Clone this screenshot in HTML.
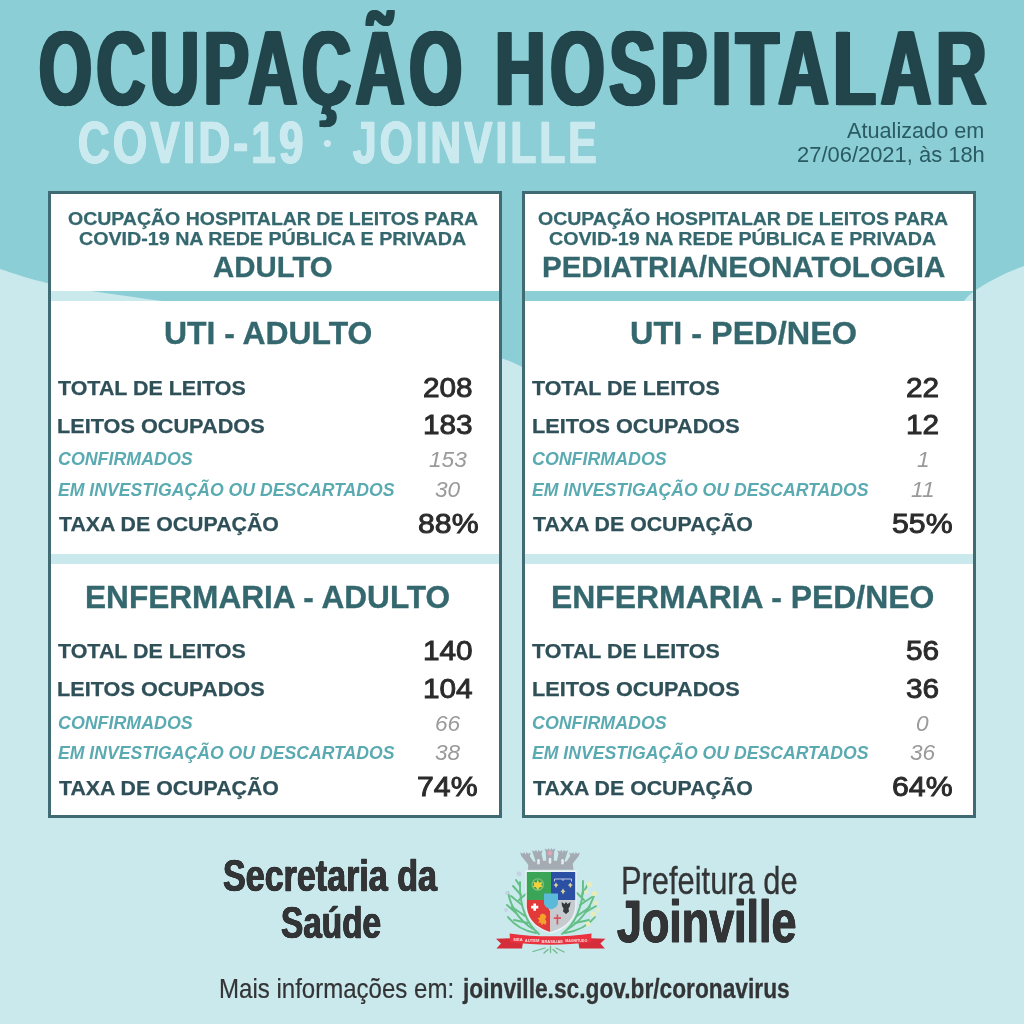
<!DOCTYPE html>
<html lang="pt-BR"><head><meta charset="utf-8"><title>Ocupação Hospitalar - COVID-19 - Joinville</title>
<style>
html,body{margin:0;padding:0}
body{width:1024px;height:1024px;position:relative;overflow:hidden;background:#cae9ec;font-family:"Liberation Sans",sans-serif;font-weight:bold}
#bg{position:absolute;left:0;top:0}
.box{position:absolute;top:191px;width:448px;height:621px;border:3px solid #416b73;box-sizing:content-box}
.box i{position:absolute;left:0;right:0;background:#fff;display:block}
.t{position:absolute;white-space:nowrap;line-height:1;transform-origin:0 0;display:block}
#crest{position:absolute;left:490px;top:840px}
</style></head><body>
<svg id="bg" width="1024" height="1024" viewBox="0 0 1024 1024"><path fill="#8bced6" d="M0,0H1024V266C1006,272 987,282 973,292C966,297 962,304 955,312C900,380 800,470 650,430C600,415 560,390 522,367C470,338 300,320 162,301C120,295 85,291 48,283.2C30,279 15,274 0,269Z"/></svg>
<header>
<span class="t" style="left:39.02px;top:16.65px;font-size:104.78px;color:#22454b;transform:scaleX(0.6485);-webkit-text-stroke:0.3px #22454b;letter-spacing:7px;text-shadow:3.0px 0 0 #22454b,-3.0px 0 0 #22454b,1.5px 0 0 #22454b,-1.5px 0 0 #22454b;">OCUPAÇÃO</span>
<span class="t" style="left:495.03px;top:16.65px;font-size:104.78px;color:#22454b;transform:scaleX(0.6675);-webkit-text-stroke:0.3px #22454b;letter-spacing:7px;text-shadow:3.0px 0 0 #22454b,-3.0px 0 0 #22454b,1.5px 0 0 #22454b,-1.5px 0 0 #22454b;">HOSPITALAR</span>
<span class="t" style="left:77.86px;top:112.63px;font-size:59.86px;color:#cbeaef;transform:scaleX(0.7328);-webkit-text-stroke:0.6px #cbeaef;letter-spacing:4.5px;text-shadow:1.1px 0 0 #cbeaef,-1.1px 0 0 #cbeaef,0.55px 0 0 #cbeaef,-0.55px 0 0 #cbeaef;">COVID-19</span>
<span class="t" style="left:323.17px;top:131.68px;font-size:24.3px;color:#cbeaef;transform:scaleX(1.0423);">•</span>
<span class="t" style="left:352.59px;top:112.63px;font-size:59.86px;color:#cbeaef;transform:scaleX(0.7053);-webkit-text-stroke:0.6px #cbeaef;letter-spacing:4.5px;text-shadow:1.1px 0 0 #cbeaef,-1.1px 0 0 #cbeaef,0.55px 0 0 #cbeaef,-0.55px 0 0 #cbeaef;">JOINVILLE</span>
<span class="t" style="left:847.00px;top:119.52px;font-size:21.59px;color:#2a5a62;transform:scaleX(1.0043);font-weight:normal;">Atualizado em</span>
<span class="t" style="left:796.57px;top:144.72px;font-size:21.3px;color:#2a5a62;transform:scaleX(1.0297);font-weight:normal;">27/06/2021, às 18h</span>
</header>
<main>
<section class="card">
<div class="box" style="left:48px"><i style="top:0;height:97.2px"></i><i style="top:107.2px;height:252.8px"></i><i style="top:370.3px;bottom:0"></i></div>
<span class="t" style="left:68.15px;top:209.66px;font-size:18.77px;color:#34686e;transform:scaleX(1.0388);-webkit-text-stroke:0.25px #34686e;">OCUPAÇÃO HOSPITALAR DE LEITOS PARA</span>
<span class="t" style="left:78.65px;top:229.66px;font-size:18.77px;color:#34686e;transform:scaleX(1.0480);-webkit-text-stroke:0.25px #34686e;">COVID-19 NA REDE PÚBLICA E PRIVADA</span>
<span class="t" style="left:213.44px;top:252.84px;font-size:29.13px;color:#34686e;transform:scaleX(1.0089);-webkit-text-stroke:0.3px #34686e;">ADULTO</span>
<span class="t" style="left:164.18px;top:316.90px;font-size:32.25px;color:#34686e;transform:scaleX(0.9884);-webkit-text-stroke:0.35px #34686e;">UTI - ADULTO</span>
<span class="t" style="left:57.92px;top:377.05px;font-size:21.09px;color:#2f5058;transform:scaleX(1.0168);-webkit-text-stroke:0.25px #2f5058;">TOTAL DE LEITOS</span>
<span class="t" style="left:57.44px;top:414.85px;font-size:21.09px;color:#2f5058;transform:scaleX(1.0287);-webkit-text-stroke:0.25px #2f5058;">LEITOS OCUPADOS</span>
<span class="t" style="left:57.94px;top:450.59px;font-size:17.61px;color:#5aaab1;transform:scaleX(1.0125);font-style:italic;">CONFIRMADOS</span>
<span class="t" style="left:57.95px;top:481.73px;font-size:17.68px;color:#5aaab1;transform:scaleX(0.9982);font-style:italic;">EM INVESTIGAÇÃO OU DESCARTADOS</span>
<span class="t" style="left:58.67px;top:513.89px;font-size:20.8px;color:#2f5058;transform:scaleX(1.0252);-webkit-text-stroke:0.25px #2f5058;">TAXA DE OCUPAÇÃO</span>
<span class="t" style="left:423.09px;top:374.66px;font-size:26.8px;color:#2b2b2b;transform:scaleX(1.1100);font-weight:normal;-webkit-text-stroke:0.9px #2b2b2b;">208</span>
<span class="t" style="left:422.86px;top:411.51px;font-size:26.8px;color:#2b2b2b;transform:scaleX(1.1100);font-weight:normal;-webkit-text-stroke:0.9px #2b2b2b;">183</span>
<span class="t" style="left:428.86px;top:449.35px;font-size:21.2px;color:#9a9a9a;transform:scaleX(1.0700);font-weight:normal;font-style:italic;">153</span>
<span class="t" style="left:435.22px;top:478.65px;font-size:21.2px;color:#9a9a9a;transform:scaleX(1.0700);font-weight:normal;font-style:italic;">30</span>
<span class="t" style="left:417.72px;top:510.54px;font-size:27.0px;color:#2b2b2b;transform:scaleX(1.1200);font-weight:normal;-webkit-text-stroke:0.9px #2b2b2b;">88%</span>
<span class="t" style="left:85.20px;top:580.65px;font-size:32.25px;color:#34686e;transform:scaleX(0.9799);-webkit-text-stroke:0.35px #34686e;">ENFERMARIA - ADULTO</span>
<span class="t" style="left:57.92px;top:640.30px;font-size:21.09px;color:#2f5058;transform:scaleX(1.0168);-webkit-text-stroke:0.25px #2f5058;">TOTAL DE LEITOS</span>
<span class="t" style="left:57.44px;top:678.35px;font-size:21.09px;color:#2f5058;transform:scaleX(1.0287);-webkit-text-stroke:0.25px #2f5058;">LEITOS OCUPADOS</span>
<span class="t" style="left:57.94px;top:714.59px;font-size:17.61px;color:#5aaab1;transform:scaleX(1.0125);font-style:italic;">CONFIRMADOS</span>
<span class="t" style="left:57.95px;top:744.73px;font-size:17.68px;color:#5aaab1;transform:scaleX(0.9982);font-style:italic;">EM INVESTIGAÇÃO OU DESCARTADOS</span>
<span class="t" style="left:58.67px;top:777.64px;font-size:20.8px;color:#2f5058;transform:scaleX(1.0252);-webkit-text-stroke:0.25px #2f5058;">TAXA DE OCUPAÇÃO</span>
<span class="t" style="left:422.62px;top:637.66px;font-size:26.8px;color:#2b2b2b;transform:scaleX(1.1100);font-weight:normal;-webkit-text-stroke:0.9px #2b2b2b;">140</span>
<span class="t" style="left:422.62px;top:675.51px;font-size:26.8px;color:#2b2b2b;transform:scaleX(1.1100);font-weight:normal;-webkit-text-stroke:0.9px #2b2b2b;">104</span>
<span class="t" style="left:434.79px;top:712.85px;font-size:21.2px;color:#9a9a9a;transform:scaleX(1.0700);font-weight:normal;font-style:italic;">66</span>
<span class="t" style="left:435.22px;top:742.15px;font-size:21.2px;color:#9a9a9a;transform:scaleX(1.0700);font-weight:normal;font-style:italic;">38</span>
<span class="t" style="left:417.48px;top:773.54px;font-size:27.0px;color:#2b2b2b;transform:scaleX(1.1200);font-weight:normal;-webkit-text-stroke:0.9px #2b2b2b;">74%</span>
</section>
<section class="card">
<div class="box" style="left:522px"><i style="top:0;height:97.2px"></i><i style="top:107.2px;height:252.8px"></i><i style="top:370.3px;bottom:0"></i></div>
<span class="t" style="left:538.15px;top:209.66px;font-size:18.77px;color:#34686e;transform:scaleX(1.0388);-webkit-text-stroke:0.25px #34686e;">OCUPAÇÃO HOSPITALAR DE LEITOS PARA</span>
<span class="t" style="left:548.65px;top:229.66px;font-size:18.77px;color:#34686e;transform:scaleX(1.0480);-webkit-text-stroke:0.25px #34686e;">COVID-19 NA REDE PÚBLICA E PRIVADA</span>
<span class="t" style="left:542.06px;top:252.84px;font-size:29.13px;color:#34686e;transform:scaleX(1.0132);-webkit-text-stroke:0.3px #34686e;">PEDIATRIA/NEONATOLOGIA</span>
<span class="t" style="left:629.91px;top:316.90px;font-size:32.25px;color:#34686e;transform:scaleX(1.0058);-webkit-text-stroke:0.35px #34686e;">UTI - PED/NEO</span>
<span class="t" style="left:532.42px;top:377.05px;font-size:21.09px;color:#2f5058;transform:scaleX(1.0168);-webkit-text-stroke:0.25px #2f5058;">TOTAL DE LEITOS</span>
<span class="t" style="left:531.94px;top:414.85px;font-size:21.09px;color:#2f5058;transform:scaleX(1.0287);-webkit-text-stroke:0.25px #2f5058;">LEITOS OCUPADOS</span>
<span class="t" style="left:532.44px;top:450.59px;font-size:17.61px;color:#5aaab1;transform:scaleX(1.0125);font-style:italic;">CONFIRMADOS</span>
<span class="t" style="left:532.45px;top:481.73px;font-size:17.68px;color:#5aaab1;transform:scaleX(0.9982);font-style:italic;">EM INVESTIGAÇÃO OU DESCARTADOS</span>
<span class="t" style="left:533.17px;top:513.89px;font-size:20.8px;color:#2f5058;transform:scaleX(1.0252);-webkit-text-stroke:0.25px #2f5058;">TAXA DE OCUPAÇÃO</span>
<span class="t" style="left:905.86px;top:374.66px;font-size:26.8px;color:#2b2b2b;transform:scaleX(1.1100);font-weight:normal;-webkit-text-stroke:0.9px #2b2b2b;">22</span>
<span class="t" style="left:905.63px;top:411.51px;font-size:26.8px;color:#2b2b2b;transform:scaleX(1.1100);font-weight:normal;-webkit-text-stroke:0.9px #2b2b2b;">12</span>
<span class="t" style="left:916.88px;top:449.35px;font-size:21.2px;color:#9a9a9a;transform:scaleX(1.0700);font-weight:normal;font-style:italic;">1</span>
<span class="t" style="left:911.42px;top:478.65px;font-size:21.2px;color:#9a9a9a;transform:scaleX(1.0700);font-weight:normal;font-style:italic;">11</span>
<span class="t" style="left:892.22px;top:510.54px;font-size:27.0px;color:#2b2b2b;transform:scaleX(1.1200);font-weight:normal;-webkit-text-stroke:0.9px #2b2b2b;">55%</span>
<span class="t" style="left:550.68px;top:580.65px;font-size:32.25px;color:#34686e;transform:scaleX(0.9890);-webkit-text-stroke:0.35px #34686e;">ENFERMARIA - PED/NEO</span>
<span class="t" style="left:532.42px;top:640.30px;font-size:21.09px;color:#2f5058;transform:scaleX(1.0168);-webkit-text-stroke:0.25px #2f5058;">TOTAL DE LEITOS</span>
<span class="t" style="left:531.94px;top:678.35px;font-size:21.09px;color:#2f5058;transform:scaleX(1.0287);-webkit-text-stroke:0.25px #2f5058;">LEITOS OCUPADOS</span>
<span class="t" style="left:532.44px;top:714.59px;font-size:17.61px;color:#5aaab1;transform:scaleX(1.0125);font-style:italic;">CONFIRMADOS</span>
<span class="t" style="left:532.45px;top:744.73px;font-size:17.68px;color:#5aaab1;transform:scaleX(0.9982);font-style:italic;">EM INVESTIGAÇÃO OU DESCARTADOS</span>
<span class="t" style="left:533.17px;top:777.64px;font-size:20.8px;color:#2f5058;transform:scaleX(1.0252);-webkit-text-stroke:0.25px #2f5058;">TAXA DE OCUPAÇÃO</span>
<span class="t" style="left:906.09px;top:637.66px;font-size:26.8px;color:#2b2b2b;transform:scaleX(1.1100);font-weight:normal;-webkit-text-stroke:0.9px #2b2b2b;">56</span>
<span class="t" style="left:906.09px;top:675.51px;font-size:26.8px;color:#2b2b2b;transform:scaleX(1.1100);font-weight:normal;-webkit-text-stroke:0.9px #2b2b2b;">36</span>
<span class="t" style="left:915.76px;top:712.85px;font-size:21.2px;color:#9a9a9a;transform:scaleX(1.0700);font-weight:normal;font-style:italic;">0</span>
<span class="t" style="left:909.67px;top:742.15px;font-size:21.2px;color:#9a9a9a;transform:scaleX(1.0700);font-weight:normal;font-style:italic;">36</span>
<span class="t" style="left:891.98px;top:773.54px;font-size:27.0px;color:#2b2b2b;transform:scaleX(1.1200);font-weight:normal;-webkit-text-stroke:0.9px #2b2b2b;">64%</span>
</section>
</main>
<footer>
<span class="t" style="left:222.61px;top:852.91px;font-size:45.29px;color:#333436;transform:scaleX(0.7523);-webkit-text-stroke:0.5px #333436;text-shadow:0.6px 0 0 #333436,-0.6px 0 0 #333436,0.3px 0 0 #333436,-0.3px 0 0 #333436;">Secretaria da</span>
<span class="t" style="left:280.61px;top:900.52px;font-size:44.57px;color:#333436;transform:scaleX(0.7482);-webkit-text-stroke:0.5px #333436;text-shadow:0.6px 0 0 #333436,-0.6px 0 0 #333436,0.3px 0 0 #333436,-0.3px 0 0 #333436;">Saúde</span>
<svg id="crest" width="130" height="124" viewBox="488 838 130 124" style="position:absolute;left:488px;top:838px">
<!-- plants -->
<g fill="none" stroke="#63bf85" stroke-width="1.900" stroke-linecap="round">
<path d="M539,934C528,925 519,908 520,882"/><path d="M533,929C520,921 511,908 508,892"/><path d="M536,933C525,931 515,926 508,917"/>
<path d="M525,916L512,907M522,905L511,896M521,895L513,886M520,886L516,880M528,923L514,920M519,900L527,893M516,913L507,905"/>
<path d="M562,934C574,925 584,908 583,881"/><path d="M568,929C581,921 590,908 595,893"/><path d="M565,933C577,931 588,926 595,917"/>
<path d="M577,916L590,907M580,905L592,897M582,895L588,884M575,923L589,920M584,900L577,893M586,912L596,906"/>
</g>
<g fill="#e9edb5"><circle cx="589.500" cy="884.500" r="2.800"/><circle cx="594.500" cy="893.500" r="2.600"/><circle cx="596" cy="903" r="2.200"/><circle cx="593" cy="914" r="2.600"/><circle cx="588" cy="924" r="2.400"/><circle cx="586" cy="892" r="2"/><circle cx="598" cy="910" r="1.800"/></g>
<g fill="#c5d2e4"><circle cx="519" cy="874" r="2.400"/><circle cx="507" cy="893" r="2"/><circle cx="506" cy="910" r="2"/></g>
<!-- crown -->
<path fill="#a4abb2" d="M528.9,865.5L521.3,856.0L520.1,852.5L522.9,853.7L524.3,851.9L525.5,854.7L526.7,851.9L528.1,853.7L530.9,852.5L529.7,856.0L536.1,865.5ZM536.9,865.5L533.1,853.8L531.9,850.3L534.7,851.5L536.1,849.7L537.3,852.5L538.5,849.7L539.9,851.5L542.7,850.3L541.5,853.8L544.1,865.5ZM546.4,865.5L545.8,852.0L544.6,848.5L547.4,849.7L548.8,847.9L550.0,850.7L551.2,847.9L552.6,849.7L555.4,848.5L554.2,852.0L553.6,865.5ZM555.9,865.5L558.5,853.8L557.3,850.3L560.1,851.5L561.5,849.7L562.7,852.5L563.9,849.7L565.3,851.5L568.1,850.3L566.9,853.8L563.1,865.5ZM563.9,865.5L570.3,856.0L569.1,852.5L571.9,853.7L573.3,851.9L574.5,854.7L575.7,851.9L577.1,853.7L579.9,852.5L578.7,856.0L571.1,865.5Z"/>
<path fill="#a4abb2" d="M528.500,862.500C543,860 558,860 572.500,862.500L573.500,869.800H528Z"/>
<g fill="#e4ebef"><rect x="537.2" y="859" width="2.600" height="5.4" rx="1.2"/><rect x="548.7" y="857.8" width="2.600" height="6" rx="1.2"/><rect x="561.2" y="859" width="2.600" height="5.4" rx="1.2"/></g>
<circle cx="550" cy="853.300" r="2.300" fill="#e7a3b4"/>
<!-- shield -->
<path fill="#eef3f5" d="M525.500,870.500H576.500V905C576.500,920 566,929 551,933.500C536,929 525.500,920 525.500,905Z"/>
<path fill="#3aa557" d="M526.800,872H551V900H526.800Z"/>
<path fill="#2a4fa3" d="M551,872H575.200V900H551Z"/>
<path fill="#e23a3b" d="M526.800,900H544.500L550.300,911.500V932C537,928 526.800,919 526.800,905Z"/>
<path fill="#c6cbcf" d="M544,900H575.200V905C575.200,919 565,928 550.300,932V911.500Z"/>
<path fill="#5bb9da" d="M544,893.500H558V903C558,906.500 554.500,908.500 551,909.200C547.500,908.500 544,906.500 544,903Z"/>
<!-- charges -->
<circle cx="537.800" cy="884.500" r="6.300" fill="#7cc07a"/><circle cx="537.800" cy="884.500" r="5" fill="#3f9a52"/>
<path fill="#f0d23c" d="M537.800,879.500l1.300,3.200 3.200-1 -1,3.200 1.700,2.300 -3.200-.3 -2,3.300 -2-3.300 -3.200,.3 1.700-2.300 -1-3.200 3.200,1z"/>
<path fill="none" stroke="#cfd8ea" stroke-width="0.900" d="M554.500,881.500V879H571.500V881.500M563,879V881"/>
<g fill="#d9d4a0"><path d="M556,882.500l1.500,2.500 -1.500,3 -1.500-3z"/><path d="M570.300,882.500l1.500,2.500 -1.500,3 -1.500-3z"/><path d="M563,888.500l1.600,2.800 -1.600,3.200 -1.600-3.200z"/><rect x="553.800" y="884.600" width="4.400" height="0.900"/><rect x="568.100" y="884.600" width="4.400" height="0.900"/><rect x="560.800" y="890.900" width="4.400" height="0.900"/></g>
<path fill="#fff" d="M533.400,903.500h2.600v2.300h2.300v2.600h-2.300v2.300h-2.600v-2.300h-2.300v-2.600h2.300z"/>
<path fill="#f4a02c" d="M540,915l2.500-1.500 2.500,1 1.500,2.500 -1.500,2 1.500,2.500 -1,3.500 -2-1.500 -1.500,2 -1.500-3 -2.500,.5 1.500-2.500 -2-2.500 2.500-.5z"/>
<path fill="#333a3c" d="M566,902l1.500,2 3-2 -.5,4 -1.500,2.500 .5,3 -3,2.500 -3-2.500 .5-3 -1.500-2.500 -.5-4 3,2z"/>
<path fill="#e0505a" d="M556.600,914.500h1.600v2.800h2.800v1.600h-2.800v5.500h-1.600v-5.500h-2.800v-1.600h2.800z"/>
<!-- ribbon -->
<path fill="#d52d39" d="M496,938.800L511,938.300L523,942.500L522,948.500L496.500,948.500L501,943.600Z"/>
<path fill="#d52d39" d="M605.400,938.800L590.400,938.300L578.400,942.500L579.400,948.500L604.900,948.500L600.400,943.600Z"/>
<path fill="#e9333f" d="M509.600,933.500C523,935.500 537,936.300 550.500,936.300C564,936.300 578,935.500 591.600,933.500L591,942C577,944 564,944.700 550.500,944.700C537,944.700 524,944 510.200,942Z"/>
<text font-family="Liberation Sans, sans-serif" font-weight="bold" font-size="4.400" fill="#f9dfe1"><tspan x="513.600" y="941.400" textLength="9" lengthAdjust="spacingAndGlyphs">MEA</tspan><tspan x="524.800" y="942.400" textLength="14.500" lengthAdjust="spacingAndGlyphs">AUTEM</tspan><tspan x="541.500" y="942.900" textLength="21.500" lengthAdjust="spacingAndGlyphs">BRASILIAE</tspan><tspan x="565.200" y="942.300" textLength="22" lengthAdjust="spacingAndGlyphs">MAGNITUDO</tspan></text>
<g fill="none" stroke="#6fb98a" stroke-width="1.300" stroke-linecap="round"><path d="M550.500,946.500v6M545,948l-12,3.500M556,948l8,4M548,949.500l-4,3.500M553,949.500l4,3.500"/></g>
</svg>

<span class="t" style="left:620.71px;top:860.63px;font-size:39.42px;color:#333436;transform:scaleX(0.7828);font-weight:normal;-webkit-text-stroke:0.3px #333436;">Prefeitura de</span>
<span class="t" style="left:617.09px;top:892.88px;font-size:58.62px;color:#333436;transform:scaleX(0.7650);-webkit-text-stroke:0.8px #333436;text-shadow:0.7px 0 0 #333436,-0.7px 0 0 #333436,0.35px 0 0 #333436,-0.35px 0 0 #333436;">Joinville</span>
<span class="t" style="left:219.46px;top:975.33px;font-size:27.25px;color:#333436;transform:scaleX(0.8822);font-weight:normal;-webkit-text-stroke:0.2px #333436;">Mais informações em:</span>
<span class="t" style="left:462.78px;top:975.41px;font-size:27.39px;color:#333436;transform:scaleX(0.8301);-webkit-text-stroke:0.3px #333436;">joinville.sc.gov.br/coronavirus</span>
</footer>
</body></html>
